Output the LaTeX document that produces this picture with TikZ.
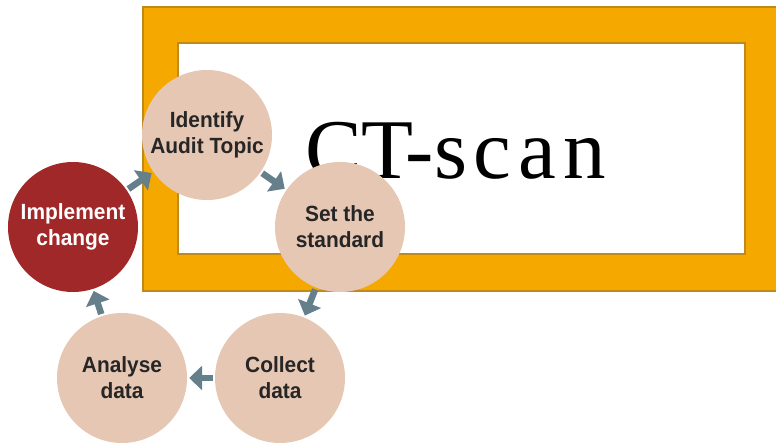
\documentclass[tikz,border=0pt]{standalone}
\usepackage{fontspec}
\setmainfont{Liberation Serif}
\newfontfamily\stagefont[FakeStretch=0.95]{Liberation Sans}
\usetikzlibrary{arrows.meta}
\definecolor{peach}{HTML}{E6C7B3}
\definecolor{brick}{HTML}{A12828}
\definecolor{slate}{HTML}{65808A}
\definecolor{amber}{HTML}{F4A800}
\definecolor{amberline}{HTML}{C08A1A}
\tikzset{stage/.style={circle,fill=peach,minimum size=130pt,inner sep=0pt,align=center,
		font=\stagefont\fontsize{22}{26}\selectfont\bfseries,text=black!85},
	flow/.style={draw=slate,line width=6.5pt,-{Triangle[length=13pt,width=24pt]},
		shorten <=2pt,shorten >=2pt}}

\begin{document}
\begin{tikzpicture}[x=1pt,y=-1pt]
	\useasboundingbox (0,0) rectangle (776,444);
	% frame with title
	\draw[amberline,line width=1.5pt,fill=amber] (143,7) rectangle (800,291);
	\draw[amberline,line width=1.5pt,fill=white] (178,43) rectangle (745,254);
	\node[anchor=base west,inner sep=0pt,font=\fontsize{85}{85}\selectfont] (title) at (305,178)
		{CT\kern-8pt-{\addfontfeature{LetterSpace=8}scan}};
	% audit cycle
	\node[stage] (topic) at (207,135) {Identify\\Audit Topic};
	\node[stage] (standard) at (340,227) {Set the\\standard};
	\node[stage] (collect) at (280,378) {Collect\\data};
	\node[stage] (analyse) at (122,378) {Analyse\\data};
	\node[stage,fill=brick,text=white] (implement) at (73,227) {Implement\\change};
	\draw[flow] (implement) -- (topic);
	\draw[flow] (topic) -- (standard);
	\draw[flow] (standard) -- (collect);
	\draw[flow] (collect) -- (analyse);
	\draw[flow] (analyse) -- (implement);
\end{tikzpicture}
\end{document}
